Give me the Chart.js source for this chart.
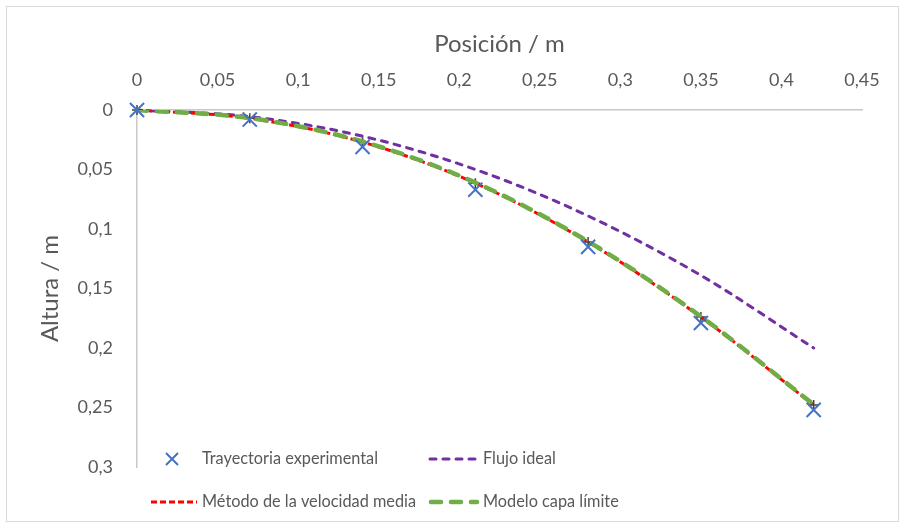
<!DOCTYPE html>
<html lang="es">
<head>
<meta charset="UTF-8">
<title>Trayectoria</title>
<script src="https://cdn.jsdelivr.net/npm/chart.js"></script>
<style>
    body { margin: 0; background: #fff; }
    #grafico { display: block; }
</style>
</head>
<body>
<canvas id="grafico" width="905" height="528"></canvas>
<script>
    // datos
    const posicion = [0, 0.07, 0.14, 0.21, 0.28, 0.35, 0.42];
    const alturaExperimental = [0, 0.008, 0.031, 0.067, 0.115, 0.179, 0.252];
    const alturaIdeal = [0, 0.0056, 0.022, 0.05, 0.089, 0.139, 0.2];
    const alturaVelMedia = [0, 0.007, 0.027, 0.0615, 0.111, 0.174, 0.248];
    const alturaCapaLimite = [0, 0.0068, 0.0265, 0.061, 0.1105, 0.1735, 0.2475];
    const ticksX = [0, 0.05, 0.1, 0.15, 0.2, 0.25, 0.3, 0.35, 0.4, 0.45];
    const ticksY = [0, 0.05, 0.1, 0.15, 0.2, 0.25, 0.3];

    const gris = '#595959';
    const fuente = 'Lato';

    // estilos de trazo
    const guionIdeal = [6, 7];
    const guionMedia = [6, 3];
    const guionCapa = [10, 10];

    const pares = ys => posicion.map((x, i) => ({ x: x, y: ys[i] }));
    const coma = v => String(Math.round(v * 100) / 100).replace('.', ',');

    // leyenda dibujada a mano (marcas con guiones como en Excel)
    const leyenda = {
        id: 'leyenda',
        afterDraw(chart) {
            const ctx = chart.ctx;
            ctx.save();
            ctx.font = '16.3px ' + fuente;
            ctx.fillStyle = gris;
            ctx.textBaseline = 'middle';
            ctx.textAlign = 'left';

            // fila 1
            let y = 459;
            ctx.strokeStyle = '#4472c4';
            ctx.lineWidth = 2;
            ctx.beginPath();
            ctx.moveTo(166, y - 6); ctx.lineTo(178, y + 6);
            ctx.moveTo(178, y - 6); ctx.lineTo(166, y + 6);
            ctx.stroke();
            ctx.fillText('Trayectoria experimental', 202, y);

            ctx.lineCap = 'round';
            ctx.strokeStyle = '#7030a0';
            ctx.lineWidth = 3;
            ctx.setLineDash(guionIdeal);
            ctx.beginPath(); ctx.moveTo(430, y); ctx.lineTo(478, y); ctx.stroke();
            ctx.fillText('Flujo ideal', 483, y);

            // fila 2
            y = 502;
            ctx.lineCap = 'butt';
            ctx.strokeStyle = '#ff0000';
            ctx.lineWidth = 3;
            ctx.setLineDash(guionMedia);
            ctx.beginPath(); ctx.moveTo(151, y); ctx.lineTo(197, y); ctx.stroke();
            ctx.fillText('Método de la velocidad media', 202, y);

            ctx.lineCap = 'round';
            ctx.strokeStyle = '#70ad47';
            ctx.lineWidth = 4.5;
            ctx.setLineDash(guionCapa);
            ctx.beginPath(); ctx.moveTo(431, y); ctx.lineTo(477, y); ctx.stroke();
            ctx.fillText('Modelo capa límite', 483, y);

            // borde del gráfico
            ctx.setLineDash([]);
            ctx.lineCap = 'butt';
            ctx.strokeStyle = '#d9d9d9';
            ctx.lineWidth = 1;
            ctx.strokeRect(6.5, 6.5, 892, 515);
            ctx.restore();
        }
    };

    const ctx = document.getElementById('grafico').getContext('2d');
    new Chart(ctx, {
        type: 'scatter',
        data: {
            datasets: [
                {
                    label: 'Trayectoria experimental',
                    data: pares(alturaExperimental),
                    showLine: false,
                    clip: false,
                    pointStyle: 'crossRot',
                    pointRadius: 10,
                    borderColor: '#4472c4',
                    backgroundColor: '#4472c4',
                    pointBorderWidth: 2
                },
                {
                    label: 'Modelo capa límite',
                    data: pares(alturaCapaLimite),
                    showLine: true,
                    borderColor: '#70ad47',
                    borderWidth: 4.5,
                    borderDash: guionCapa,
                    borderCapStyle: 'round',
                    cubicInterpolationMode: 'monotone',
                    pointRadius: 0
                },
                {
                    label: 'Método de la velocidad media',
                    data: pares(alturaVelMedia),
                    showLine: true,
                    clip: false,
                    borderColor: '#ff0000',
                    borderWidth: 3,
                    borderDash: guionMedia,
                    cubicInterpolationMode: 'monotone',
                    pointStyle: 'cross',
                    pointRadius: 5,
                    pointBorderColor: '#404040',
                    pointBorderWidth: 1.5
                },
                {
                    label: 'Flujo ideal',
                    data: pares(alturaIdeal),
                    showLine: true,
                    borderColor: '#7030a0',
                    borderWidth: 3,
                    borderDash: guionIdeal,
                    borderCapStyle: 'round',
                    cubicInterpolationMode: 'monotone',
                    pointRadius: 0
                }
            ]
        },
        options: {
            responsive: false,
            animation: false,
            layout: { padding: { left: 0, top: 0, right: 43, bottom: 61 } },
            plugins: {
                legend: { display: false },
                tooltip: { enabled: false }
            },
            scales: {
                x: {
                    type: 'linear',
                    position: 'top',
                    min: 0,
                    max: 0.45,
                    afterBuildTicks: s => { s.ticks = ticksX.map(v => ({ value: v })); },
                    afterFit: s => { s.height = 110; },
                    grid: { display: false, drawTicks: false },
                    border: { display: true, color: '#c8c8c8', width: 1.5 },
                    ticks: {
                        color: gris,
                        font: { family: fuente, size: 18 },
                        padding: 19,
                        maxRotation: 0,
                        callback: v => coma(v)
                    },
                    title: {
                        display: true,
                        text: 'Posición / m',
                        color: gris,
                        font: { family: fuente, size: 24 },
                        padding: { top: 30, bottom: 0 }
                    }
                },
                y: {
                    type: 'linear',
                    reverse: true,
                    min: 0,
                    max: 0.3,
                    afterBuildTicks: s => { s.ticks = ticksY.map(v => ({ value: v })); },
                    afterFit: s => { s.width = 137; },
                    grid: { display: false, drawTicks: false },
                    border: { display: true, color: '#c8c8c8', width: 1.5 },
                    ticks: {
                        color: gris,
                        font: { family: fuente, size: 18 },
                        padding: 24,
                        callback: v => coma(v)
                    },
                    title: {
                        display: true,
                        text: 'Altura / m',
                        color: gris,
                        font: { family: fuente, size: 24 },
                        padding: { top: 36, bottom: 0 }
                    }
                }
            }
        },
        plugins: [leyenda]
    });
</script>
</body>
</html>
